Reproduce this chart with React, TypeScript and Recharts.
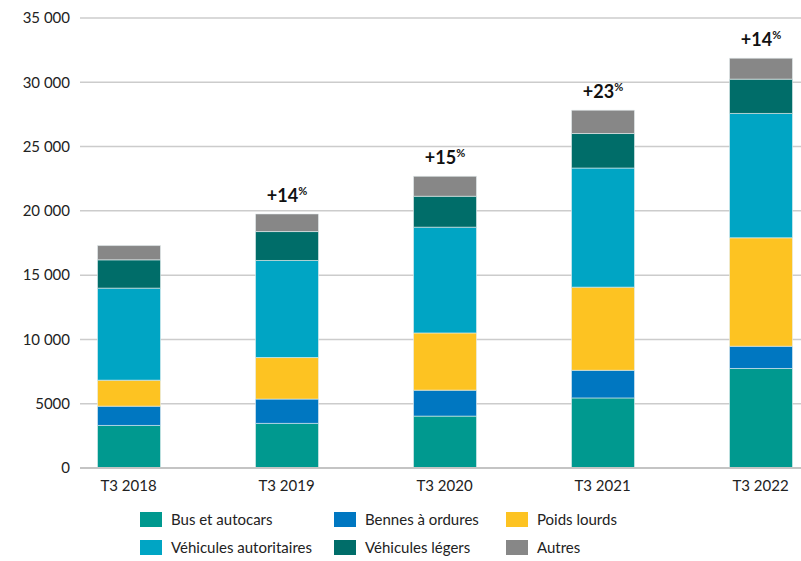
import { BarChart, Bar, XAxis, YAxis, CartesianGrid, LabelList } from 'recharts'

const categories = ['T3 2018', 'T3 2019', 'T3 2020', 'T3 2021', 'T3 2022']
const bus = [3310, 3470, 4035, 5450, 7740]
const bennes = [1500, 1890, 2020, 2150, 1730]
const poidsLourds = [2020, 3230, 4450, 6465, 8435]
const autoritaires = [7160, 7550, 8225, 9265, 9670]
const legers = [2200, 2250, 2405, 2685, 2670]
const autres = [1110, 1370, 1550, 1815, 1630]
const growth = ['', '+14', '+15', '+23', '+14']
const yTicks = [0, 5000, 10000, 15000, 20000, 25000, 30000, 35000]

const SERIES = [
  { key: 'bus', name: 'Bus et autocars', color: '#00998f' },
  { key: 'bennes', name: 'Bennes à ordures', color: '#0077c1' },
  { key: 'poids', name: 'Poids lourds', color: '#fdc322' },
  { key: 'autoritaires', name: 'Véhicules autoritaires', color: '#00a5c4' },
  { key: 'legers', name: 'Véhicules légers', color: '#006d69' },
  { key: 'autres', name: 'Autres', color: '#878787' },
]

const LEGEND_ORDER = ['bus', 'bennes', 'poids', 'autoritaires', 'legers', 'autres']

const data = categories.map((c, i) => ({
  cat: c,
  bus: bus[i],
  bennes: bennes[i],
  poids: poidsLourds[i],
  autoritaires: autoritaires[i],
  legers: legers[i],
  autres: autres[i],
  growth: growth[i],
}))

const FONT = 'Lato, "Noto Sans", sans-serif'

const fmt = (v: number) =>
  v >= 10000 ? String(v).replace(/\B(?=(\d{3})+(?!\d))/g, ' ') : String(v)

function GrowthLabel(props: any) {
  const { x, y, width, value } = props
  if (!value) return null
  return (
    <text x={x + width / 2} y={y - 12} textAnchor="middle" fontFamily={FONT} fontWeight={700} fill="#111">
      <tspan fontSize={18}>{value}</tspan>
      <tspan fontSize={11} dy={-7}>%</tspan>
    </text>
  )
}

export default function App() {
  return (
    <div style={{ width: 801, height: 561, position: 'relative', fontFamily: FONT }}>
      <style>{'body{margin:0}'}</style>
      <BarChart
        width={801}
        height={500}
        data={data}
        margin={{ top: 18, right: 0, bottom: 2, left: 0 }}
        barSize={63}
      >
        <CartesianGrid vertical={false} stroke="#cccccc" strokeWidth={1.5} />
        <XAxis
          dataKey="cat"
          padding={{ left: -30.5, right: -38.5 }}
          tickLine={false}
          tickSize={0}
          tickMargin={12}
          height={30}
          axisLine={{ stroke: '#c4c4c4', strokeWidth: 2 }}
          tick={{ fontSize: 15, fill: '#222', fontFamily: FONT }}
        />
        <YAxis
          width={80}
          domain={[0, 35000]}
          ticks={yTicks}
          tickFormatter={fmt}
          axisLine={false}
          tickLine={false}
          tickSize={0}
          tickMargin={10}
          tick={{ fontSize: 15, fill: '#222', fontFamily: FONT }}
        />
        {SERIES.map(s => (
          <Bar
            key={s.key}
            dataKey={s.key}
            stackId="a"
            fill={s.color}
            stroke="#e6eef0"
            strokeWidth={0.6}
            isAnimationActive={false}
          >
            {s.key === 'autres' && <LabelList dataKey="growth" content={<GrowthLabel />} />}
          </Bar>
        ))}
      </BarChart>
      {LEGEND_ORDER.map((k, i) => {
        const s = SERIES.find(x => x.key === k)!
        const col = i % 3
        const row = Math.floor(i / 3)
        const left = [140, 334, 506][col]
        const top = [512, 540][row]
        return (
          <div
            key={k}
            style={{ position: 'absolute', left, top, display: 'flex', alignItems: 'center', fontSize: 15, color: '#222', whiteSpace: 'nowrap' }}
          >
            <span style={{ width: 22, height: 15, background: s.color, display: 'inline-block', marginRight: 9 }} />
            <span style={{ lineHeight: '15px' }}>{s.name}</span>
          </div>
        )
      })}
    </div>
  )
}
